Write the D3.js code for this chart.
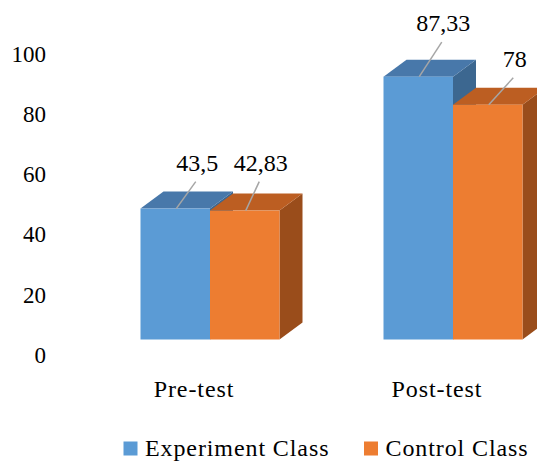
<!DOCTYPE html>
<html>
<head>
<meta charset="utf-8">
<script src="https://cdn.jsdelivr.net/npm/d3@7"></script>
<style>
  html, body { margin: 0; padding: 0; background: #fff; }
  svg { display: block; }
</style>
</head>
<body>
<svg id="chart" width="537" height="461"></svg>
<script>
// Scores per test, one array per class
const categories = ["Pre-test", "Post-test"];
const seriesNames = ["Experiment Class", "Control Class"];
const experimentValues = [43.5, 87.33];
const controlValues = [42.83, 78];
const valueLabels = [["43,5", "87,33"], ["42,83", "78"]];
const yTicks = [0, 20, 40, 60, 80, 100];

const FONT = '"Liberation Serif"';

const series = [
  { name: seriesNames[0], values: experimentValues, labels: valueLabels[0],
    front: "#5B9BD5", top: "#4878AA", side: "#3C6790" },
  { name: seriesNames[1], values: controlValues, labels: valueLabels[1],
    front: "#ED7D31", top: "#BC5E22", side: "#9A4D1B" }
];

// label placement relative to the top-front centre of each bar [series][category]
const labelNudge = [
  [{ dx: 22, dy: -38 }, { dx: 25, dy: -45.5 }],
  [{ dx: 16, dy: -40 }, { dx: 27, dy: -38 }]
];

const svg = d3.select("#chart")
  .attr("font-family", FONT);

const depth = { dx: 23, dy: 17 };
const y = d3.scaleLinear().domain([0, 100]).range([339.5, 38.5]);
const xGroup = d3.scalePoint().domain(categories).range([210, 453]);
const xSeries = d3.scaleBand().domain(seriesNames).range([-69.5, 69.5]);

// value axis (labels only, sits on the back wall)
const axis = d3.axisLeft(y).tickValues(yTicks).tickSize(0).tickPadding(0)
  .tickFormat(d3.format("d"));
const axisG = svg.append("g")
  .attr("transform", "translate(46, 15.5)")
  .call(axis)
  .attr("font-family", FONT)
  .attr("font-size", 23);
axisG.select(".domain").remove();
axisG.selectAll("text")
  .attr("font-family", FONT)
  .attr("font-size", 23)
  .attr("fill", "#000");

// 3D bars
const barsG = svg.append("g");
categories.forEach((cat, ci) => {
  series.forEach((s, si) => {
    const x0 = xGroup(cat) + xSeries(s.name);
    const x1 = x0 + xSeries.bandwidth();
    const yt = y(s.values[ci]);
    const yb = y(0);
    const g = barsG.append("g");
    // side face
    g.append("path")
      .attr("d", `M${x1},${yt} L${x1 + depth.dx},${yt - depth.dy} L${x1 + depth.dx},${yb - depth.dy} L${x1},${yb} Z`)
      .attr("fill", s.side);
    // top face
    g.append("path")
      .attr("d", `M${x0},${yt} L${x0 + depth.dx},${yt - depth.dy} L${x1 + depth.dx},${yt - depth.dy} L${x1},${yt} Z`)
      .attr("fill", s.top);
    // front face
    g.append("rect")
      .attr("x", x0).attr("y", yt)
      .attr("width", x1 - x0).attr("height", yb - yt)
      .attr("fill", s.front);
  });
});

// data labels with leader lines
const labelsG = svg.append("g");
categories.forEach((cat, ci) => {
  series.forEach((s, si) => {
    const cx = xGroup(cat) + xSeries(s.name) + xSeries.bandwidth() / 2;
    const yt = y(s.values[ci]);
    const n = labelNudge[si][ci];
    const lx = cx + n.dx, ly = yt + n.dy;
    labelsG.append("line")
      .attr("x1", cx + 1).attr("y1", yt)
      .attr("x2", lx - 1.5).attr("y2", ly + 11)
      .attr("stroke", "#A6A6A6").attr("stroke-width", 1.5);
    labelsG.append("text")
      .attr("x", lx).attr("y", ly)
      .attr("text-anchor", "middle")
      .attr("font-family", FONT)
      .attr("font-size", 24)
      .attr("fill", "#000")
      .text(s.labels[ci]);
  });
});

// category labels
svg.append("g").selectAll("text")
  .data(categories)
  .join("text")
  .attr("x", d => xGroup(d) - 16)
  .attr("y", 397)
  .attr("text-anchor", "middle")
  .attr("font-family", FONT)
  .attr("font-size", 24)
  .attr("letter-spacing", "0.9px")
  .attr("fill", "#000")
  .text(d => d);

// legend
const legendX = [123.5, 364];
const legend = svg.append("g").selectAll("g")
  .data(series)
  .join("g")
  .attr("transform", (d, i) => `translate(${legendX[i]}, 441.5)`);
legend.append("rect")
  .attr("width", 14).attr("height", 14)
  .attr("fill", d => d.front);
legend.append("text")
  .attr("x", 21.5).attr("y", 14.3)
  .attr("font-family", FONT)
  .attr("font-size", 24)
  .attr("letter-spacing", "0.9px")
  .attr("fill", "#000")
  .text(d => d.name);
</script>
</body>
</html>
